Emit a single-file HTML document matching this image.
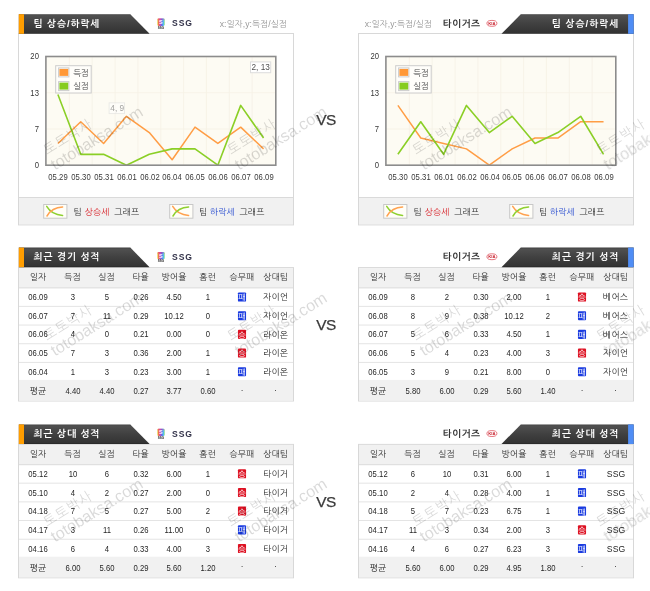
<!DOCTYPE html>
<html lang="ko"><head><meta charset="utf-8"><title>팀 상승/하락세</title>
<style>
html,body{margin:0;padding:0;background:#fff;}
body{width:650px;height:591px;position:relative;overflow:hidden;font-family:"Liberation Sans","NanumGothic","Noto Sans CJK KR",sans-serif;color:#333;}
#g{position:absolute;left:0;top:0;}
#w{position:absolute;left:0;top:0;width:650px;height:591px;filter:blur(0.35px);}
.a{position:absolute;white-space:nowrap;}
.k,.n,.ax{position:absolute;white-space:nowrap;line-height:12px;height:12px;}
.k{font-size:8.7px;letter-spacing:0.2px;color:#1f1f1f;}
.n{font-size:9.6px;letter-spacing:0.05px;color:#262626;transform:scaleX(0.8);}
.ax{font-size:9.6px;letter-spacing:0.05px;color:#383838;transform:scaleX(0.8);}
.ax.r{transform-origin:100% 50%;}
.c{text-align:center;}
.r{text-align:right;}
.bt{position:absolute;height:12px;line-height:12px;font-size:9.6px;font-weight:bold;color:#fff;letter-spacing:0.9px;white-space:nowrap;}
.team{position:absolute;font-weight:bold;line-height:12px;height:12px;color:#333;white-space:nowrap;}
.xy{position:absolute;font-size:8.6px;line-height:12px;height:12px;color:#999;letter-spacing:0.05px;white-space:nowrap;}
.vs{position:absolute;left:306px;width:40px;text-align:center;font-size:15.4px;line-height:16px;height:16px;color:#3a3a3a;letter-spacing:-0.6px;-webkit-text-stroke:0.25px #3a3a3a;}
.tip{position:absolute;font-size:9.6px;line-height:12px;height:12px;text-align:center;color:#505050;letter-spacing:0;white-space:nowrap;transform:scaleX(0.86);}
.bd{position:absolute;width:10px;height:10px;color:#fff;font-size:8px;line-height:10px;text-align:center;font-weight:normal;}
.wm{position:absolute;width:0;height:0;transform-origin:0 0;transform:rotate(-32deg);color:rgba(0,0,0,0.15);white-space:nowrap;line-height:1;}
.wm b{display:block;font-weight:normal;font-size:13.4px;position:absolute;left:2.5px;bottom:8.3px;letter-spacing:1.1px;}
.wm s{display:block;text-decoration:none;font-size:16.2px;position:absolute;left:1px;bottom:-8.5px;}
</style></head>
<body><div id="w">
<svg id="g" width="650" height="591" viewBox="0 0 650 591"><defs><linearGradient id="bar" x1="0" y1="0" x2="0" y2="1"><stop offset="0" stop-color="#3c3c3c"/><stop offset="0.07" stop-color="#505050"/><stop offset="0.5" stop-color="#404040"/><stop offset="0.93" stop-color="#343434"/><stop offset="1" stop-color="#262626"/></linearGradient><linearGradient id="g1" x1="0" y1="0" x2="1" y2="0"><stop offset="0" stop-color="#e6e03c"/><stop offset="0.2" stop-color="#f04a3c"/><stop offset="0.42" stop-color="#b234c4"/><stop offset="0.62" stop-color="#3c58e2"/><stop offset="0.84" stop-color="#3ab4f0"/><stop offset="1" stop-color="#62d264"/></linearGradient><linearGradient id="g2" x1="0" y1="0" x2="0" y2="1"><stop offset="0" stop-color="#e83a8a" stop-opacity="0.45"/><stop offset="0.5" stop-color="#fff" stop-opacity="0.08"/><stop offset="1" stop-color="#fff" stop-opacity="0.15"/></linearGradient></defs>
<rect x="18.50" y="33.50" width="275.00" height="191.40" fill="#fff" stroke="#d8d8d8" stroke-width="1"/>
<rect x="19.00" y="198.00" width="274.00" height="26.00" fill="#f1f1f1" />
<line x1="19.00" y1="197.50" x2="293.00" y2="197.50" stroke="#dadada" stroke-width="1"/>
<polygon points="18.8,14.2 130.3,14.2 149.6,33.8 18.8,33.8" fill="url(#bar)" transform="translate(0,0)"/>
<rect x="18.80" y="14.20" width="5.20" height="19.60" fill="#ff9d00" />
<g transform="translate(157.30,18.50)"><rect x="0" y="0" width="7.3" height="7.4" rx="1.3" fill="url(#g1)"/><rect x="0" y="0" width="7.3" height="7.4" rx="1.3" fill="url(#g2)"/><text x="3.65" y="5.8" font-size="5.6" font-weight="bold" fill="#fff" text-anchor="middle" font-family="Liberation Sans,sans-serif">S</text><text x="3.65" y="10.2" font-size="3" font-weight="bold" fill="#222" text-anchor="middle" font-family="Liberation Sans,sans-serif">SSG</text></g>
<rect x="45.90" y="56.50" width="229.90" height="108.70" fill="#fdfbf3" />
<line x1="69.35" y1="56.50" x2="69.35" y2="165.20" stroke="#f6f2e7" stroke-width="0.9"/>
<line x1="92.20" y1="56.50" x2="92.20" y2="165.20" stroke="#f6f2e7" stroke-width="0.9"/>
<line x1="115.05" y1="56.50" x2="115.05" y2="165.20" stroke="#f6f2e7" stroke-width="0.9"/>
<line x1="137.90" y1="56.50" x2="137.90" y2="165.20" stroke="#f6f2e7" stroke-width="0.9"/>
<line x1="160.75" y1="56.50" x2="160.75" y2="165.20" stroke="#f6f2e7" stroke-width="0.9"/>
<line x1="183.60" y1="56.50" x2="183.60" y2="165.20" stroke="#f6f2e7" stroke-width="0.9"/>
<line x1="206.45" y1="56.50" x2="206.45" y2="165.20" stroke="#f6f2e7" stroke-width="0.9"/>
<line x1="229.30" y1="56.50" x2="229.30" y2="165.20" stroke="#f6f2e7" stroke-width="0.9"/>
<line x1="252.15" y1="56.50" x2="252.15" y2="165.20" stroke="#f6f2e7" stroke-width="0.9"/>
<line x1="45.90" y1="128.97" x2="275.80" y2="128.97" stroke="#f6f2e7" stroke-width="0.9"/>
<line x1="45.90" y1="92.73" x2="275.80" y2="92.73" stroke="#f6f2e7" stroke-width="0.9"/>
<polyline points="57.90,143.46 80.75,121.72 103.60,143.46 126.45,116.28 149.30,132.59 172.15,159.76 195.00,127.16 217.85,143.46 240.70,127.16 263.55,148.89" fill="none" stroke="#ff9d45" stroke-width="1.5" stroke-linejoin="round"/>
<polyline points="57.90,94.54 80.75,154.33 103.60,154.33 126.45,165.20 149.30,154.33 172.15,148.89 195.00,148.89 217.85,165.20 240.70,105.41 263.55,138.02" fill="none" stroke="#8bcf26" stroke-width="1.6" stroke-linejoin="round"/>
<rect x="45.90" y="56.50" width="229.90" height="108.70" fill="none" stroke="#8c8c8c" stroke-width="1.6"/>
<rect x="55.70" y="65.70" width="35.50" height="27.30" fill="rgba(255,254,250,0.88)" stroke="#ccc" stroke-width="1"/>
<rect x="58.60" y="67.90" width="10.30" height="9.00" fill="#fff" stroke="#ccc" stroke-width="1"/>
<rect x="59.40" y="68.90" width="8.80" height="7.00" fill="#ff9836" />
<rect x="58.60" y="81.60" width="10.30" height="9.00" fill="#fff" stroke="#ccc" stroke-width="1"/>
<rect x="59.40" y="82.60" width="8.80" height="7.00" fill="#86cc1e" />
<g opacity="1">
<rect x="250.50" y="61.90" width="20.20" height="10.80" fill="#fff" stroke="#ddd" stroke-width="1"/>
</g>
<g opacity="0.55">
<rect x="109.10" y="102.80" width="15.40" height="10.80" fill="#fff" stroke="#ddd" stroke-width="1"/>
</g>
<rect x="43.70" y="204.50" width="23.20" height="13.70" fill="#fffef8" stroke="#c8c8c8" stroke-width="1"/>
<g transform="translate(43.20,204.0)" stroke-linecap="round"><path d="M3.5 2.3 C6 6.6 10 10.6 19.4 11.4" fill="none" stroke="#8fd030" stroke-width="1.5"/><path d="M3.8 12 C6.5 7.4 10 3.6 19.4 3.1" fill="none" stroke="#ffa250" stroke-width="1.5"/></g>
<rect x="169.70" y="204.50" width="23.20" height="13.70" fill="#fffef8" stroke="#c8c8c8" stroke-width="1"/>
<g transform="translate(169.20,204.0)" stroke-linecap="round"><path d="M3.5 2.3 C6 6.6 10 10.6 19.4 11.4" fill="none" stroke="#ffa250" stroke-width="1.5"/><path d="M3.8 12 C6.5 7.4 10 3.6 19.4 3.1" fill="none" stroke="#8fd030" stroke-width="1.5"/></g>
<rect x="358.50" y="33.50" width="275.00" height="191.40" fill="#fff" stroke="#d8d8d8" stroke-width="1"/>
<rect x="359.00" y="198.00" width="274.00" height="26.00" fill="#f1f1f1" />
<line x1="359.00" y1="197.50" x2="633.00" y2="197.50" stroke="#dadada" stroke-width="1"/>
<polygon points="520.8000000000001,14.2 633.7,14.2 633.7,33.8 501.5,33.8" fill="url(#bar)"/>
<rect x="628.10" y="14.20" width="5.60" height="19.60" fill="#4f8df5" />
<g transform="translate(486.50,20.00)"><ellipse cx="5.4" cy="3.35" rx="5.0" ry="2.95" fill="#fff" stroke="#de4a55" stroke-width="0.75"/><text x="5.4" y="4.85" font-size="4.2" font-weight="bold" fill="#c8202c" text-anchor="middle" font-family="Liberation Sans,sans-serif">KIA</text></g>
<rect x="385.90" y="56.50" width="229.90" height="108.70" fill="#fdfbf3" />
<line x1="409.35" y1="56.50" x2="409.35" y2="165.20" stroke="#f6f2e7" stroke-width="0.9"/>
<line x1="432.20" y1="56.50" x2="432.20" y2="165.20" stroke="#f6f2e7" stroke-width="0.9"/>
<line x1="455.05" y1="56.50" x2="455.05" y2="165.20" stroke="#f6f2e7" stroke-width="0.9"/>
<line x1="477.90" y1="56.50" x2="477.90" y2="165.20" stroke="#f6f2e7" stroke-width="0.9"/>
<line x1="500.75" y1="56.50" x2="500.75" y2="165.20" stroke="#f6f2e7" stroke-width="0.9"/>
<line x1="523.60" y1="56.50" x2="523.60" y2="165.20" stroke="#f6f2e7" stroke-width="0.9"/>
<line x1="546.45" y1="56.50" x2="546.45" y2="165.20" stroke="#f6f2e7" stroke-width="0.9"/>
<line x1="569.30" y1="56.50" x2="569.30" y2="165.20" stroke="#f6f2e7" stroke-width="0.9"/>
<line x1="592.15" y1="56.50" x2="592.15" y2="165.20" stroke="#f6f2e7" stroke-width="0.9"/>
<line x1="385.90" y1="128.97" x2="615.80" y2="128.97" stroke="#f6f2e7" stroke-width="0.9"/>
<line x1="385.90" y1="92.73" x2="615.80" y2="92.73" stroke="#f6f2e7" stroke-width="0.9"/>
<polyline points="397.90,105.41 420.75,138.02 443.60,143.46 466.45,148.89 489.30,165.20 512.15,148.89 535.00,138.02 557.85,138.02 580.70,121.72 603.55,121.72" fill="none" stroke="#ff9d45" stroke-width="1.5" stroke-linejoin="round"/>
<polyline points="397.90,154.33 420.75,121.72 443.60,154.33 466.45,105.41 489.30,132.59 512.15,116.28 535.00,143.46 557.85,132.59 580.70,116.28 603.55,154.33" fill="none" stroke="#8bcf26" stroke-width="1.6" stroke-linejoin="round"/>
<rect x="385.90" y="56.50" width="229.90" height="108.70" fill="none" stroke="#8c8c8c" stroke-width="1.6"/>
<rect x="395.70" y="65.70" width="35.50" height="27.30" fill="rgba(255,254,250,0.88)" stroke="#ccc" stroke-width="1"/>
<rect x="398.60" y="67.90" width="10.30" height="9.00" fill="#fff" stroke="#ccc" stroke-width="1"/>
<rect x="399.40" y="68.90" width="8.80" height="7.00" fill="#ff9836" />
<rect x="398.60" y="81.60" width="10.30" height="9.00" fill="#fff" stroke="#ccc" stroke-width="1"/>
<rect x="399.40" y="82.60" width="8.80" height="7.00" fill="#86cc1e" />
<rect x="383.70" y="204.50" width="23.20" height="13.70" fill="#fffef8" stroke="#c8c8c8" stroke-width="1"/>
<g transform="translate(383.20,204.0)" stroke-linecap="round"><path d="M3.5 2.3 C6 6.6 10 10.6 19.4 11.4" fill="none" stroke="#8fd030" stroke-width="1.5"/><path d="M3.8 12 C6.5 7.4 10 3.6 19.4 3.1" fill="none" stroke="#ffa250" stroke-width="1.5"/></g>
<rect x="509.70" y="204.50" width="23.20" height="13.70" fill="#fffef8" stroke="#c8c8c8" stroke-width="1"/>
<g transform="translate(509.20,204.0)" stroke-linecap="round"><path d="M3.5 2.3 C6 6.6 10 10.6 19.4 11.4" fill="none" stroke="#ffa250" stroke-width="1.5"/><path d="M3.8 12 C6.5 7.4 10 3.6 19.4 3.1" fill="none" stroke="#8fd030" stroke-width="1.5"/></g>
<rect x="18.50" y="267.60" width="275.00" height="133.40" fill="#fff" stroke="#d8d8d8" stroke-width="1"/>
<rect x="19.00" y="268.10" width="274.00" height="19.60" fill="#f1f1f1" />
<line x1="19.00" y1="287.90" x2="293.00" y2="287.90" stroke="#dadada" stroke-width="1"/>
<polygon points="18.8,247.6 130.3,247.6 149.6,267.2 18.8,267.2" fill="url(#bar)" transform="translate(0,0)"/>
<rect x="18.80" y="247.60" width="5.20" height="19.60" fill="#ff9d00" />
<g transform="translate(157.30,251.90)"><rect x="0" y="0" width="7.3" height="7.4" rx="1.3" fill="url(#g1)"/><rect x="0" y="0" width="7.3" height="7.4" rx="1.3" fill="url(#g2)"/><text x="3.65" y="5.8" font-size="5.6" font-weight="bold" fill="#fff" text-anchor="middle" font-family="Liberation Sans,sans-serif">S</text><text x="3.65" y="10.2" font-size="3" font-weight="bold" fill="#222" text-anchor="middle" font-family="Liberation Sans,sans-serif">SSG</text></g>
<rect x="19.00" y="379.90" width="274.00" height="20.60" fill="#f1f1f1" />
<rect x="237.95" y="292.45" width="8.10" height="9.10" fill="#1a3be0" rx="0.9"/>
<line x1="19.00" y1="306.38" x2="293.00" y2="306.38" stroke="#e4e4e4" stroke-width="1"/>
<rect x="237.95" y="311.13" width="8.10" height="9.10" fill="#1a3be0" rx="0.9"/>
<line x1="19.00" y1="325.06" x2="293.00" y2="325.06" stroke="#e4e4e4" stroke-width="1"/>
<rect x="237.95" y="329.81" width="8.10" height="9.10" fill="#dd1122" rx="0.9"/>
<line x1="19.00" y1="343.74" x2="293.00" y2="343.74" stroke="#e4e4e4" stroke-width="1"/>
<rect x="237.95" y="348.49" width="8.10" height="9.10" fill="#dd1122" rx="0.9"/>
<line x1="19.00" y1="362.42" x2="293.00" y2="362.42" stroke="#e4e4e4" stroke-width="1"/>
<rect x="237.95" y="367.17" width="8.10" height="9.10" fill="#1a3be0" rx="0.9"/>
<rect x="358.50" y="267.60" width="275.00" height="133.40" fill="#fff" stroke="#d8d8d8" stroke-width="1"/>
<rect x="359.00" y="268.10" width="274.00" height="19.60" fill="#f1f1f1" />
<line x1="359.00" y1="287.90" x2="633.00" y2="287.90" stroke="#dadada" stroke-width="1"/>
<polygon points="520.8000000000001,247.6 633.7,247.6 633.7,267.2 501.5,267.2" fill="url(#bar)"/>
<rect x="628.10" y="247.60" width="5.60" height="19.60" fill="#4f8df5" />
<g transform="translate(486.50,253.40)"><ellipse cx="5.4" cy="3.35" rx="5.0" ry="2.95" fill="#fff" stroke="#de4a55" stroke-width="0.75"/><text x="5.4" y="4.85" font-size="4.2" font-weight="bold" fill="#c8202c" text-anchor="middle" font-family="Liberation Sans,sans-serif">KIA</text></g>
<rect x="359.00" y="379.90" width="274.00" height="20.60" fill="#f1f1f1" />
<rect x="577.95" y="292.45" width="8.10" height="9.10" fill="#dd1122" rx="0.9"/>
<line x1="359.00" y1="306.38" x2="633.00" y2="306.38" stroke="#e4e4e4" stroke-width="1"/>
<rect x="577.95" y="311.13" width="8.10" height="9.10" fill="#1a3be0" rx="0.9"/>
<line x1="359.00" y1="325.06" x2="633.00" y2="325.06" stroke="#e4e4e4" stroke-width="1"/>
<rect x="577.95" y="329.81" width="8.10" height="9.10" fill="#1a3be0" rx="0.9"/>
<line x1="359.00" y1="343.74" x2="633.00" y2="343.74" stroke="#e4e4e4" stroke-width="1"/>
<rect x="577.95" y="348.49" width="8.10" height="9.10" fill="#dd1122" rx="0.9"/>
<line x1="359.00" y1="362.42" x2="633.00" y2="362.42" stroke="#e4e4e4" stroke-width="1"/>
<rect x="577.95" y="367.17" width="8.10" height="9.10" fill="#1a3be0" rx="0.9"/>
<rect x="18.50" y="444.40" width="275.00" height="133.40" fill="#fff" stroke="#d8d8d8" stroke-width="1"/>
<rect x="19.00" y="444.90" width="274.00" height="19.60" fill="#f1f1f1" />
<line x1="19.00" y1="464.70" x2="293.00" y2="464.70" stroke="#dadada" stroke-width="1"/>
<polygon points="18.8,424.4 130.3,424.4 149.6,444.0 18.8,444.0" fill="url(#bar)" transform="translate(0,0)"/>
<rect x="18.80" y="424.40" width="5.20" height="19.60" fill="#ff9d00" />
<g transform="translate(157.30,428.70)"><rect x="0" y="0" width="7.3" height="7.4" rx="1.3" fill="url(#g1)"/><rect x="0" y="0" width="7.3" height="7.4" rx="1.3" fill="url(#g2)"/><text x="3.65" y="5.8" font-size="5.6" font-weight="bold" fill="#fff" text-anchor="middle" font-family="Liberation Sans,sans-serif">S</text><text x="3.65" y="10.2" font-size="3" font-weight="bold" fill="#222" text-anchor="middle" font-family="Liberation Sans,sans-serif">SSG</text></g>
<rect x="19.00" y="556.70" width="274.00" height="20.60" fill="#f1f1f1" />
<rect x="237.95" y="469.25" width="8.10" height="9.10" fill="#dd1122" rx="0.9"/>
<line x1="19.00" y1="483.18" x2="293.00" y2="483.18" stroke="#e4e4e4" stroke-width="1"/>
<rect x="237.95" y="487.93" width="8.10" height="9.10" fill="#dd1122" rx="0.9"/>
<line x1="19.00" y1="501.86" x2="293.00" y2="501.86" stroke="#e4e4e4" stroke-width="1"/>
<rect x="237.95" y="506.61" width="8.10" height="9.10" fill="#dd1122" rx="0.9"/>
<line x1="19.00" y1="520.54" x2="293.00" y2="520.54" stroke="#e4e4e4" stroke-width="1"/>
<rect x="237.95" y="525.29" width="8.10" height="9.10" fill="#1a3be0" rx="0.9"/>
<line x1="19.00" y1="539.22" x2="293.00" y2="539.22" stroke="#e4e4e4" stroke-width="1"/>
<rect x="237.95" y="543.97" width="8.10" height="9.10" fill="#dd1122" rx="0.9"/>
<rect x="358.50" y="444.40" width="275.00" height="133.40" fill="#fff" stroke="#d8d8d8" stroke-width="1"/>
<rect x="359.00" y="444.90" width="274.00" height="19.60" fill="#f1f1f1" />
<line x1="359.00" y1="464.70" x2="633.00" y2="464.70" stroke="#dadada" stroke-width="1"/>
<polygon points="520.8000000000001,424.4 633.7,424.4 633.7,444.0 501.5,444.0" fill="url(#bar)"/>
<rect x="628.10" y="424.40" width="5.60" height="19.60" fill="#4f8df5" />
<g transform="translate(486.50,430.20)"><ellipse cx="5.4" cy="3.35" rx="5.0" ry="2.95" fill="#fff" stroke="#de4a55" stroke-width="0.75"/><text x="5.4" y="4.85" font-size="4.2" font-weight="bold" fill="#c8202c" text-anchor="middle" font-family="Liberation Sans,sans-serif">KIA</text></g>
<rect x="359.00" y="556.70" width="274.00" height="20.60" fill="#f1f1f1" />
<rect x="577.95" y="469.25" width="8.10" height="9.10" fill="#1a3be0" rx="0.9"/>
<line x1="359.00" y1="483.18" x2="633.00" y2="483.18" stroke="#e4e4e4" stroke-width="1"/>
<rect x="577.95" y="487.93" width="8.10" height="9.10" fill="#1a3be0" rx="0.9"/>
<line x1="359.00" y1="501.86" x2="633.00" y2="501.86" stroke="#e4e4e4" stroke-width="1"/>
<rect x="577.95" y="506.61" width="8.10" height="9.10" fill="#1a3be0" rx="0.9"/>
<line x1="359.00" y1="520.54" x2="633.00" y2="520.54" stroke="#e4e4e4" stroke-width="1"/>
<rect x="577.95" y="525.29" width="8.10" height="9.10" fill="#dd1122" rx="0.9"/>
<line x1="359.00" y1="539.22" x2="633.00" y2="539.22" stroke="#e4e4e4" stroke-width="1"/>
<rect x="577.95" y="543.97" width="8.10" height="9.10" fill="#1a3be0" rx="0.9"/>
</svg>
<div class="bt" style="left:33.6px;top:18.00px">팀 상승/하락세</div>
<div class="team" style="left:172.1px;top:17.40px;font-size:8.6px;letter-spacing:0.9px;color:#33334a">SSG</div>
<div class="xy" style="left:219.7px;top:18.30px">x:일자,y:득점/실점</div>
<div class="ax r" style="left:18.0px;width:21.0px;top:50px;">20</div>
<div class="ax r" style="left:18.0px;width:21.0px;top:87px;">13</div>
<div class="ax r" style="left:18.0px;width:21.0px;top:123px;">7</div>
<div class="ax r" style="left:18.0px;width:21.0px;top:159px;">0</div>
<div class="ax c" style="left:43.20px;width:30px;top:170.7px">05.29</div>
<div class="ax c" style="left:66.05px;width:30px;top:170.7px">05.30</div>
<div class="ax c" style="left:88.90px;width:30px;top:170.7px">05.31</div>
<div class="ax c" style="left:111.75px;width:30px;top:170.7px">06.01</div>
<div class="ax c" style="left:134.60px;width:30px;top:170.7px">06.02</div>
<div class="ax c" style="left:157.45px;width:30px;top:170.7px">06.04</div>
<div class="ax c" style="left:180.30px;width:30px;top:170.7px">06.05</div>
<div class="ax c" style="left:203.15px;width:30px;top:170.7px">06.06</div>
<div class="ax c" style="left:226.00px;width:30px;top:170.7px">06.07</div>
<div class="ax c" style="left:248.85px;width:30px;top:170.7px">06.09</div>
<div class="k" style="left:73.30000000000001px;top:66.7px;color:#444;font-size:8.4px;letter-spacing:-0.3px">득점</div>
<div class="k" style="left:73.30000000000001px;top:80.4px;color:#444;font-size:8.4px;letter-spacing:-0.3px">실점</div>
<div class="tip" style="left:250.0px;top:61.10px;width:21.2px;opacity:1">2, 13</div>
<div class="tip" style="left:108.6px;top:102.00px;width:16.4px;opacity:0.55">4, 9</div>
<div class="k" style="left:73.6px;top:205.6px;color:#333">팀</div>
<div class="k" style="left:84.6px;top:205.6px;color:#d8232a">상승세</div>
<div class="k" style="left:114.3px;top:205.6px;color:#333">그래프</div>
<div class="k" style="left:198.9px;top:205.6px;color:#333">팀</div>
<div class="k" style="left:209.9px;top:205.6px;color:#2b4fd0">하락세</div>
<div class="k" style="left:239.60000000000002px;top:205.6px;color:#333">그래프</div>
<div class="bt r" style="right:30.700000000000045px;top:18.00px;letter-spacing:1px">팀 상승/하락세</div>
<div class="team" style="left:442.8px;top:17.70px;font-size:9.6px;letter-spacing:0.4px">타이거즈</div>
<div class="xy" style="left:364.7px;top:18.30px">x:일자,y:득점/실점</div>
<div class="ax r" style="left:358.0px;width:21.0px;top:50px;">20</div>
<div class="ax r" style="left:358.0px;width:21.0px;top:87px;">13</div>
<div class="ax r" style="left:358.0px;width:21.0px;top:123px;">7</div>
<div class="ax r" style="left:358.0px;width:21.0px;top:159px;">0</div>
<div class="ax c" style="left:383.20px;width:30px;top:170.7px">05.30</div>
<div class="ax c" style="left:406.05px;width:30px;top:170.7px">05.31</div>
<div class="ax c" style="left:428.90px;width:30px;top:170.7px">06.01</div>
<div class="ax c" style="left:451.75px;width:30px;top:170.7px">06.02</div>
<div class="ax c" style="left:474.60px;width:30px;top:170.7px">06.04</div>
<div class="ax c" style="left:497.45px;width:30px;top:170.7px">06.05</div>
<div class="ax c" style="left:520.30px;width:30px;top:170.7px">06.06</div>
<div class="ax c" style="left:543.15px;width:30px;top:170.7px">06.07</div>
<div class="ax c" style="left:566.00px;width:30px;top:170.7px">06.08</div>
<div class="ax c" style="left:588.85px;width:30px;top:170.7px">06.09</div>
<div class="k" style="left:413.3px;top:66.7px;color:#444;font-size:8.4px;letter-spacing:-0.3px">득점</div>
<div class="k" style="left:413.3px;top:80.4px;color:#444;font-size:8.4px;letter-spacing:-0.3px">실점</div>
<div class="k" style="left:413.6px;top:205.6px;color:#333">팀</div>
<div class="k" style="left:424.6px;top:205.6px;color:#d8232a">상승세</div>
<div class="k" style="left:454.3px;top:205.6px;color:#333">그래프</div>
<div class="k" style="left:538.9px;top:205.6px;color:#333">팀</div>
<div class="k" style="left:549.9px;top:205.6px;color:#2b4fd0">하락세</div>
<div class="k" style="left:579.6px;top:205.6px;color:#333">그래프</div>
<div class="bt" style="left:33.6px;top:251.40px">최근 경기 성적</div>
<div class="team" style="left:172.1px;top:250.80px;font-size:8.6px;letter-spacing:0.9px;color:#33334a">SSG</div>
<div class="k c" style="left:18.0px;width:40px;top:271.35px;color:#303030;">일자</div>
<div class="k c" style="left:52.5px;width:40px;top:271.35px;color:#303030;">득점</div>
<div class="k c" style="left:86.5px;width:40px;top:271.35px;color:#303030;">실점</div>
<div class="k c" style="left:120.5px;width:40px;top:271.35px;color:#303030;">타율</div>
<div class="k c" style="left:154.0px;width:40px;top:271.35px;color:#303030;">방어율</div>
<div class="k c" style="left:187.7px;width:40px;top:271.35px;color:#303030;">홈런</div>
<div class="k c" style="left:222.0px;width:40px;top:271.35px;color:#303030;">승무패</div>
<div class="k c" style="left:255.6px;width:40px;top:271.35px;color:#303030;">상대팀</div>
<div class="n c" style="left:18.0px;width:40px;top:291.10px;">06.09</div>
<div class="n c" style="left:52.5px;width:40px;top:291.10px;">3</div>
<div class="n c" style="left:86.5px;width:40px;top:291.10px;">5</div>
<div class="n c" style="left:120.5px;width:40px;top:291.10px;">0.26</div>
<div class="n c" style="left:154.0px;width:40px;top:291.10px;">4.50</div>
<div class="n c" style="left:187.7px;width:40px;top:291.10px;">1</div>
<div class="bd" style="left:237.0px;top:293.40px">패</div>
<div class="k c" style="left:255.6px;width:40px;top:291.30px;">자이언</div>
<div class="n c" style="left:18.0px;width:40px;top:309.78px;">06.07</div>
<div class="n c" style="left:52.5px;width:40px;top:309.78px;">7</div>
<div class="n c" style="left:86.5px;width:40px;top:309.78px;">11</div>
<div class="n c" style="left:120.5px;width:40px;top:309.78px;">0.29</div>
<div class="n c" style="left:154.0px;width:40px;top:309.78px;">10.12</div>
<div class="n c" style="left:187.7px;width:40px;top:309.78px;">0</div>
<div class="bd" style="left:237.0px;top:312.08px">패</div>
<div class="k c" style="left:255.6px;width:40px;top:309.98px;">자이언</div>
<div class="n c" style="left:18.0px;width:40px;top:328.46px;">06.06</div>
<div class="n c" style="left:52.5px;width:40px;top:328.46px;">4</div>
<div class="n c" style="left:86.5px;width:40px;top:328.46px;">0</div>
<div class="n c" style="left:120.5px;width:40px;top:328.46px;">0.21</div>
<div class="n c" style="left:154.0px;width:40px;top:328.46px;">0.00</div>
<div class="n c" style="left:187.7px;width:40px;top:328.46px;">0</div>
<div class="bd" style="left:237.0px;top:330.76px">승</div>
<div class="k c" style="left:255.6px;width:40px;top:328.66px;">라이온</div>
<div class="n c" style="left:18.0px;width:40px;top:347.14px;">06.05</div>
<div class="n c" style="left:52.5px;width:40px;top:347.14px;">7</div>
<div class="n c" style="left:86.5px;width:40px;top:347.14px;">3</div>
<div class="n c" style="left:120.5px;width:40px;top:347.14px;">0.36</div>
<div class="n c" style="left:154.0px;width:40px;top:347.14px;">2.00</div>
<div class="n c" style="left:187.7px;width:40px;top:347.14px;">1</div>
<div class="bd" style="left:237.0px;top:349.44px">승</div>
<div class="k c" style="left:255.6px;width:40px;top:347.34px;">라이온</div>
<div class="n c" style="left:18.0px;width:40px;top:365.82px;">06.04</div>
<div class="n c" style="left:52.5px;width:40px;top:365.82px;">1</div>
<div class="n c" style="left:86.5px;width:40px;top:365.82px;">3</div>
<div class="n c" style="left:120.5px;width:40px;top:365.82px;">0.23</div>
<div class="n c" style="left:154.0px;width:40px;top:365.82px;">3.00</div>
<div class="n c" style="left:187.7px;width:40px;top:365.82px;">1</div>
<div class="bd" style="left:237.0px;top:368.12px">패</div>
<div class="k c" style="left:255.6px;width:40px;top:366.02px;">라이온</div>
<div class="k c" style="left:18.0px;width:40px;top:385.20px;">평균</div>
<div class="n c" style="left:52.5px;width:40px;top:385.00px;">4.40</div>
<div class="n c" style="left:86.5px;width:40px;top:385.00px;">4.40</div>
<div class="n c" style="left:120.5px;width:40px;top:385.00px;">0.27</div>
<div class="n c" style="left:154.0px;width:40px;top:385.00px;">3.77</div>
<div class="n c" style="left:187.7px;width:40px;top:385.00px;">0.60</div>
<div class="n c" style="left:222.0px;width:40px;top:384.50px;transform:none;font-size:8px;">·</div>
<div class="n c" style="left:255.6px;width:40px;top:384.50px;transform:none;font-size:8px;">·</div>
<div class="bt r" style="right:30.700000000000045px;top:251.40px;letter-spacing:1px">최근 경기 성적</div>
<div class="team" style="left:442.8px;top:251.10px;font-size:9.6px;letter-spacing:0.4px">타이거즈</div>
<div class="k c" style="left:358.0px;width:40px;top:271.35px;color:#303030;">일자</div>
<div class="k c" style="left:392.5px;width:40px;top:271.35px;color:#303030;">득점</div>
<div class="k c" style="left:426.5px;width:40px;top:271.35px;color:#303030;">실점</div>
<div class="k c" style="left:460.5px;width:40px;top:271.35px;color:#303030;">타율</div>
<div class="k c" style="left:494.0px;width:40px;top:271.35px;color:#303030;">방어율</div>
<div class="k c" style="left:527.7px;width:40px;top:271.35px;color:#303030;">홈런</div>
<div class="k c" style="left:562.0px;width:40px;top:271.35px;color:#303030;">승무패</div>
<div class="k c" style="left:595.6px;width:40px;top:271.35px;color:#303030;">상대팀</div>
<div class="n c" style="left:358.0px;width:40px;top:291.10px;">06.09</div>
<div class="n c" style="left:392.5px;width:40px;top:291.10px;">8</div>
<div class="n c" style="left:426.5px;width:40px;top:291.10px;">2</div>
<div class="n c" style="left:460.5px;width:40px;top:291.10px;">0.30</div>
<div class="n c" style="left:494.0px;width:40px;top:291.10px;">2.00</div>
<div class="n c" style="left:527.7px;width:40px;top:291.10px;">1</div>
<div class="bd" style="left:577.0px;top:293.40px">승</div>
<div class="k c" style="left:595.6px;width:40px;top:291.30px;">베어스</div>
<div class="n c" style="left:358.0px;width:40px;top:309.78px;">06.08</div>
<div class="n c" style="left:392.5px;width:40px;top:309.78px;">8</div>
<div class="n c" style="left:426.5px;width:40px;top:309.78px;">9</div>
<div class="n c" style="left:460.5px;width:40px;top:309.78px;">0.38</div>
<div class="n c" style="left:494.0px;width:40px;top:309.78px;">10.12</div>
<div class="n c" style="left:527.7px;width:40px;top:309.78px;">2</div>
<div class="bd" style="left:577.0px;top:312.08px">패</div>
<div class="k c" style="left:595.6px;width:40px;top:309.98px;">베어스</div>
<div class="n c" style="left:358.0px;width:40px;top:328.46px;">06.07</div>
<div class="n c" style="left:392.5px;width:40px;top:328.46px;">5</div>
<div class="n c" style="left:426.5px;width:40px;top:328.46px;">6</div>
<div class="n c" style="left:460.5px;width:40px;top:328.46px;">0.33</div>
<div class="n c" style="left:494.0px;width:40px;top:328.46px;">4.50</div>
<div class="n c" style="left:527.7px;width:40px;top:328.46px;">1</div>
<div class="bd" style="left:577.0px;top:330.76px">패</div>
<div class="k c" style="left:595.6px;width:40px;top:328.66px;">베어스</div>
<div class="n c" style="left:358.0px;width:40px;top:347.14px;">06.06</div>
<div class="n c" style="left:392.5px;width:40px;top:347.14px;">5</div>
<div class="n c" style="left:426.5px;width:40px;top:347.14px;">4</div>
<div class="n c" style="left:460.5px;width:40px;top:347.14px;">0.23</div>
<div class="n c" style="left:494.0px;width:40px;top:347.14px;">4.00</div>
<div class="n c" style="left:527.7px;width:40px;top:347.14px;">3</div>
<div class="bd" style="left:577.0px;top:349.44px">승</div>
<div class="k c" style="left:595.6px;width:40px;top:347.34px;">자이언</div>
<div class="n c" style="left:358.0px;width:40px;top:365.82px;">06.05</div>
<div class="n c" style="left:392.5px;width:40px;top:365.82px;">3</div>
<div class="n c" style="left:426.5px;width:40px;top:365.82px;">9</div>
<div class="n c" style="left:460.5px;width:40px;top:365.82px;">0.21</div>
<div class="n c" style="left:494.0px;width:40px;top:365.82px;">8.00</div>
<div class="n c" style="left:527.7px;width:40px;top:365.82px;">0</div>
<div class="bd" style="left:577.0px;top:368.12px">패</div>
<div class="k c" style="left:595.6px;width:40px;top:366.02px;">자이언</div>
<div class="k c" style="left:358.0px;width:40px;top:385.20px;">평균</div>
<div class="n c" style="left:392.5px;width:40px;top:385.00px;">5.80</div>
<div class="n c" style="left:426.5px;width:40px;top:385.00px;">6.00</div>
<div class="n c" style="left:460.5px;width:40px;top:385.00px;">0.29</div>
<div class="n c" style="left:494.0px;width:40px;top:385.00px;">5.60</div>
<div class="n c" style="left:527.7px;width:40px;top:385.00px;">1.40</div>
<div class="n c" style="left:562.0px;width:40px;top:384.50px;transform:none;font-size:8px;">·</div>
<div class="n c" style="left:595.6px;width:40px;top:384.50px;transform:none;font-size:8px;">·</div>
<div class="bt" style="left:33.6px;top:428.20px">최근 상대 성적</div>
<div class="team" style="left:172.1px;top:427.60px;font-size:8.6px;letter-spacing:0.9px;color:#33334a">SSG</div>
<div class="k c" style="left:18.0px;width:40px;top:448.15px;color:#303030;">일자</div>
<div class="k c" style="left:52.5px;width:40px;top:448.15px;color:#303030;">득점</div>
<div class="k c" style="left:86.5px;width:40px;top:448.15px;color:#303030;">실점</div>
<div class="k c" style="left:120.5px;width:40px;top:448.15px;color:#303030;">타율</div>
<div class="k c" style="left:154.0px;width:40px;top:448.15px;color:#303030;">방어율</div>
<div class="k c" style="left:187.7px;width:40px;top:448.15px;color:#303030;">홈런</div>
<div class="k c" style="left:222.0px;width:40px;top:448.15px;color:#303030;">승무패</div>
<div class="k c" style="left:255.6px;width:40px;top:448.15px;color:#303030;">상대팀</div>
<div class="n c" style="left:18.0px;width:40px;top:467.90px;">05.12</div>
<div class="n c" style="left:52.5px;width:40px;top:467.90px;">10</div>
<div class="n c" style="left:86.5px;width:40px;top:467.90px;">6</div>
<div class="n c" style="left:120.5px;width:40px;top:467.90px;">0.32</div>
<div class="n c" style="left:154.0px;width:40px;top:467.90px;">6.00</div>
<div class="n c" style="left:187.7px;width:40px;top:467.90px;">1</div>
<div class="bd" style="left:237.0px;top:470.20px">승</div>
<div class="k c" style="left:255.6px;width:40px;top:468.10px;">타이거</div>
<div class="n c" style="left:18.0px;width:40px;top:486.58px;">05.10</div>
<div class="n c" style="left:52.5px;width:40px;top:486.58px;">4</div>
<div class="n c" style="left:86.5px;width:40px;top:486.58px;">2</div>
<div class="n c" style="left:120.5px;width:40px;top:486.58px;">0.27</div>
<div class="n c" style="left:154.0px;width:40px;top:486.58px;">2.00</div>
<div class="n c" style="left:187.7px;width:40px;top:486.58px;">0</div>
<div class="bd" style="left:237.0px;top:488.88px">승</div>
<div class="k c" style="left:255.6px;width:40px;top:486.78px;">타이거</div>
<div class="n c" style="left:18.0px;width:40px;top:505.26px;">04.18</div>
<div class="n c" style="left:52.5px;width:40px;top:505.26px;">7</div>
<div class="n c" style="left:86.5px;width:40px;top:505.26px;">5</div>
<div class="n c" style="left:120.5px;width:40px;top:505.26px;">0.27</div>
<div class="n c" style="left:154.0px;width:40px;top:505.26px;">5.00</div>
<div class="n c" style="left:187.7px;width:40px;top:505.26px;">2</div>
<div class="bd" style="left:237.0px;top:507.56px">승</div>
<div class="k c" style="left:255.6px;width:40px;top:505.46px;">타이거</div>
<div class="n c" style="left:18.0px;width:40px;top:523.94px;">04.17</div>
<div class="n c" style="left:52.5px;width:40px;top:523.94px;">3</div>
<div class="n c" style="left:86.5px;width:40px;top:523.94px;">11</div>
<div class="n c" style="left:120.5px;width:40px;top:523.94px;">0.26</div>
<div class="n c" style="left:154.0px;width:40px;top:523.94px;">11.00</div>
<div class="n c" style="left:187.7px;width:40px;top:523.94px;">0</div>
<div class="bd" style="left:237.0px;top:526.24px">패</div>
<div class="k c" style="left:255.6px;width:40px;top:524.14px;">타이거</div>
<div class="n c" style="left:18.0px;width:40px;top:542.62px;">04.16</div>
<div class="n c" style="left:52.5px;width:40px;top:542.62px;">6</div>
<div class="n c" style="left:86.5px;width:40px;top:542.62px;">4</div>
<div class="n c" style="left:120.5px;width:40px;top:542.62px;">0.33</div>
<div class="n c" style="left:154.0px;width:40px;top:542.62px;">4.00</div>
<div class="n c" style="left:187.7px;width:40px;top:542.62px;">3</div>
<div class="bd" style="left:237.0px;top:544.92px">승</div>
<div class="k c" style="left:255.6px;width:40px;top:542.82px;">타이거</div>
<div class="k c" style="left:18.0px;width:40px;top:562.00px;">평균</div>
<div class="n c" style="left:52.5px;width:40px;top:561.80px;">6.00</div>
<div class="n c" style="left:86.5px;width:40px;top:561.80px;">5.60</div>
<div class="n c" style="left:120.5px;width:40px;top:561.80px;">0.29</div>
<div class="n c" style="left:154.0px;width:40px;top:561.80px;">5.60</div>
<div class="n c" style="left:187.7px;width:40px;top:561.80px;">1.20</div>
<div class="n c" style="left:222.0px;width:40px;top:561.30px;transform:none;font-size:8px;">·</div>
<div class="n c" style="left:255.6px;width:40px;top:561.30px;transform:none;font-size:8px;">·</div>
<div class="bt r" style="right:30.700000000000045px;top:428.20px;letter-spacing:1px">최근 상대 성적</div>
<div class="team" style="left:442.8px;top:427.90px;font-size:9.6px;letter-spacing:0.4px">타이거즈</div>
<div class="k c" style="left:358.0px;width:40px;top:448.15px;color:#303030;">일자</div>
<div class="k c" style="left:392.5px;width:40px;top:448.15px;color:#303030;">득점</div>
<div class="k c" style="left:426.5px;width:40px;top:448.15px;color:#303030;">실점</div>
<div class="k c" style="left:460.5px;width:40px;top:448.15px;color:#303030;">타율</div>
<div class="k c" style="left:494.0px;width:40px;top:448.15px;color:#303030;">방어율</div>
<div class="k c" style="left:527.7px;width:40px;top:448.15px;color:#303030;">홈런</div>
<div class="k c" style="left:562.0px;width:40px;top:448.15px;color:#303030;">승무패</div>
<div class="k c" style="left:595.6px;width:40px;top:448.15px;color:#303030;">상대팀</div>
<div class="n c" style="left:358.0px;width:40px;top:467.90px;">05.12</div>
<div class="n c" style="left:392.5px;width:40px;top:467.90px;">6</div>
<div class="n c" style="left:426.5px;width:40px;top:467.90px;">10</div>
<div class="n c" style="left:460.5px;width:40px;top:467.90px;">0.31</div>
<div class="n c" style="left:494.0px;width:40px;top:467.90px;">6.00</div>
<div class="n c" style="left:527.7px;width:40px;top:467.90px;">1</div>
<div class="bd" style="left:577.0px;top:470.20px">패</div>
<div class="n c" style="left:595.6px;width:40px;top:467.90px;transform:scaleX(0.9);letter-spacing:0;">SSG</div>
<div class="n c" style="left:358.0px;width:40px;top:486.58px;">05.10</div>
<div class="n c" style="left:392.5px;width:40px;top:486.58px;">2</div>
<div class="n c" style="left:426.5px;width:40px;top:486.58px;">4</div>
<div class="n c" style="left:460.5px;width:40px;top:486.58px;">0.28</div>
<div class="n c" style="left:494.0px;width:40px;top:486.58px;">4.00</div>
<div class="n c" style="left:527.7px;width:40px;top:486.58px;">1</div>
<div class="bd" style="left:577.0px;top:488.88px">패</div>
<div class="n c" style="left:595.6px;width:40px;top:486.58px;transform:scaleX(0.9);letter-spacing:0;">SSG</div>
<div class="n c" style="left:358.0px;width:40px;top:505.26px;">04.18</div>
<div class="n c" style="left:392.5px;width:40px;top:505.26px;">5</div>
<div class="n c" style="left:426.5px;width:40px;top:505.26px;">7</div>
<div class="n c" style="left:460.5px;width:40px;top:505.26px;">0.23</div>
<div class="n c" style="left:494.0px;width:40px;top:505.26px;">6.75</div>
<div class="n c" style="left:527.7px;width:40px;top:505.26px;">1</div>
<div class="bd" style="left:577.0px;top:507.56px">패</div>
<div class="n c" style="left:595.6px;width:40px;top:505.26px;transform:scaleX(0.9);letter-spacing:0;">SSG</div>
<div class="n c" style="left:358.0px;width:40px;top:523.94px;">04.17</div>
<div class="n c" style="left:392.5px;width:40px;top:523.94px;">11</div>
<div class="n c" style="left:426.5px;width:40px;top:523.94px;">3</div>
<div class="n c" style="left:460.5px;width:40px;top:523.94px;">0.34</div>
<div class="n c" style="left:494.0px;width:40px;top:523.94px;">2.00</div>
<div class="n c" style="left:527.7px;width:40px;top:523.94px;">3</div>
<div class="bd" style="left:577.0px;top:526.24px">승</div>
<div class="n c" style="left:595.6px;width:40px;top:523.94px;transform:scaleX(0.9);letter-spacing:0;">SSG</div>
<div class="n c" style="left:358.0px;width:40px;top:542.62px;">04.16</div>
<div class="n c" style="left:392.5px;width:40px;top:542.62px;">4</div>
<div class="n c" style="left:426.5px;width:40px;top:542.62px;">6</div>
<div class="n c" style="left:460.5px;width:40px;top:542.62px;">0.27</div>
<div class="n c" style="left:494.0px;width:40px;top:542.62px;">6.23</div>
<div class="n c" style="left:527.7px;width:40px;top:542.62px;">3</div>
<div class="bd" style="left:577.0px;top:544.92px">패</div>
<div class="n c" style="left:595.6px;width:40px;top:542.62px;transform:scaleX(0.9);letter-spacing:0;">SSG</div>
<div class="k c" style="left:358.0px;width:40px;top:562.00px;">평균</div>
<div class="n c" style="left:392.5px;width:40px;top:561.80px;">5.60</div>
<div class="n c" style="left:426.5px;width:40px;top:561.80px;">6.00</div>
<div class="n c" style="left:460.5px;width:40px;top:561.80px;">0.29</div>
<div class="n c" style="left:494.0px;width:40px;top:561.80px;">4.95</div>
<div class="n c" style="left:527.7px;width:40px;top:561.80px;">1.80</div>
<div class="n c" style="left:562.0px;width:40px;top:561.30px;transform:none;font-size:8px;">·</div>
<div class="n c" style="left:595.6px;width:40px;top:561.30px;transform:none;font-size:8px;">·</div>
<div class="vs" style="top:112.4px">VS</div>
<div class="vs" style="top:316.9px">VS</div>
<div class="vs" style="top:493.7px">VS</div>
<div class="wm" style="left:51.0px;top:165.5px"><b>토토박사</b><s>totobaksa.com</s></div>
<div class="wm" style="left:235.3px;top:165.5px"><b>토토박사</b><s>totobaksa.com</s></div>
<div class="wm" style="left:419.6px;top:165.5px"><b>토토박사</b><s>totobaksa.com</s></div>
<div class="wm" style="left:603.9px;top:165.5px"><b>토토박사</b><s>totobaksa.com</s></div>
<div class="wm" style="left:51.0px;top:351.7px"><b>토토박사</b><s>totobaksa.com</s></div>
<div class="wm" style="left:235.3px;top:351.7px"><b>토토박사</b><s>totobaksa.com</s></div>
<div class="wm" style="left:419.6px;top:351.7px"><b>토토박사</b><s>totobaksa.com</s></div>
<div class="wm" style="left:603.9px;top:351.7px"><b>토토박사</b><s>totobaksa.com</s></div>
<div class="wm" style="left:51.0px;top:537.9px"><b>토토박사</b><s>totobaksa.com</s></div>
<div class="wm" style="left:235.3px;top:537.9px"><b>토토박사</b><s>totobaksa.com</s></div>
<div class="wm" style="left:419.6px;top:537.9px"><b>토토박사</b><s>totobaksa.com</s></div>
<div class="wm" style="left:603.9px;top:537.9px"><b>토토박사</b><s>totobaksa.com</s></div>
</div></body></html>
